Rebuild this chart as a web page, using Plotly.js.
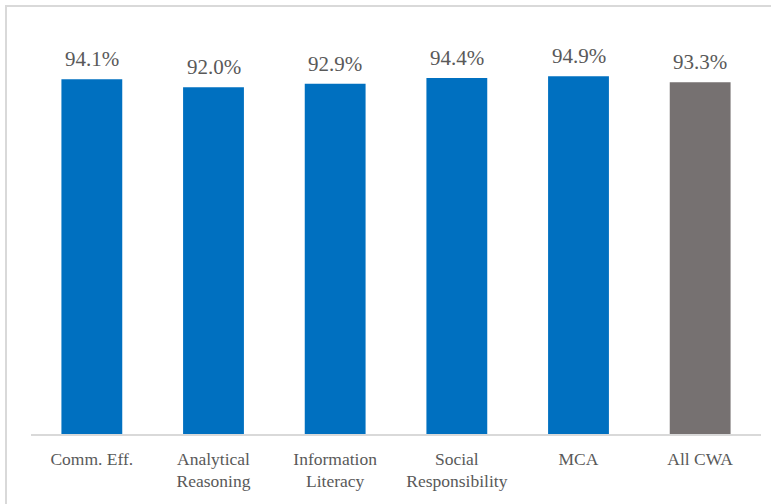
<!DOCTYPE html>
<html>
<head>
<meta charset="utf-8">
<script src="https://cdn.plot.ly/plotly-3.0.1.min.js"></script>
<style>
html,body{margin:0;padding:0;background:#fff;}
#wrap{position:relative;width:771px;height:504px;overflow:hidden;}
#chart{width:771px;height:504px;}
#frame{position:absolute;left:5px;top:5px;width:800px;height:600px;border:2px solid #d9d9d9;pointer-events:none;box-sizing:border-box;}
</style>
</head>
<body>
<div id="wrap"><div id="chart"></div><div id="frame"></div></div>
<script>
var categories = ["Comm. Eff.", "Analytical<br>Reasoning", "Information<br>Literacy", "Social<br>Responsibility", "MCA", "All CWA"];
var values = [94.1, 92.0, 92.9, 94.4, 94.9, 93.3];
var barColors = ["#0070C0", "#0070C0", "#0070C0", "#0070C0", "#0070C0", "#767171"];
var labels = values.map(function(v){ return v.toFixed(1) + "%"; });

var fontFam = "Liberation Serif, DejaVu Serif, serif";

var trace = {
  type: "bar",
  x: categories,
  y: values,
  marker: {color: barColors, line: {width: 0}},
  hoverinfo: "none"
};

var annotations = categories.map(function(c, i){
  return {
    x: c, y: values[i], xref: "x", yref: "y",
    text: labels[i], showarrow: false,
    xanchor: "center", yanchor: "bottom", yshift: 6,
    font: {family: fontFam, size: 21, color: "#595959"}
  };
});

var layout = {
  width: 771,
  height: 504,
  margin: {l: 31, r: 10, t: 57, b: 70},
  paper_bgcolor: "#ffffff",
  plot_bgcolor: "#ffffff",
  showlegend: false,
  bargap: 0.5,
  font: {family: fontFam, color: "#595959"},
  annotations: annotations,
  xaxis: {
    showgrid: false,
    zeroline: false,
    showline: true,
    linecolor: "#d9d9d9",
    linewidth: 1.5,
    ticks: "",
    ticklabelstandoff: 8,
    tickfont: {family: fontFam, size: 17.5, color: "#595959"},
    fixedrange: true
  },
  yaxis: {
    range: [0, 100],
    visible: false,
    showgrid: false,
    zeroline: false,
    fixedrange: true
  }
};

Plotly.newPlot("chart", [trace], layout, {staticPlot: true, displayModeBar: false});
</script>
</body>
</html>
